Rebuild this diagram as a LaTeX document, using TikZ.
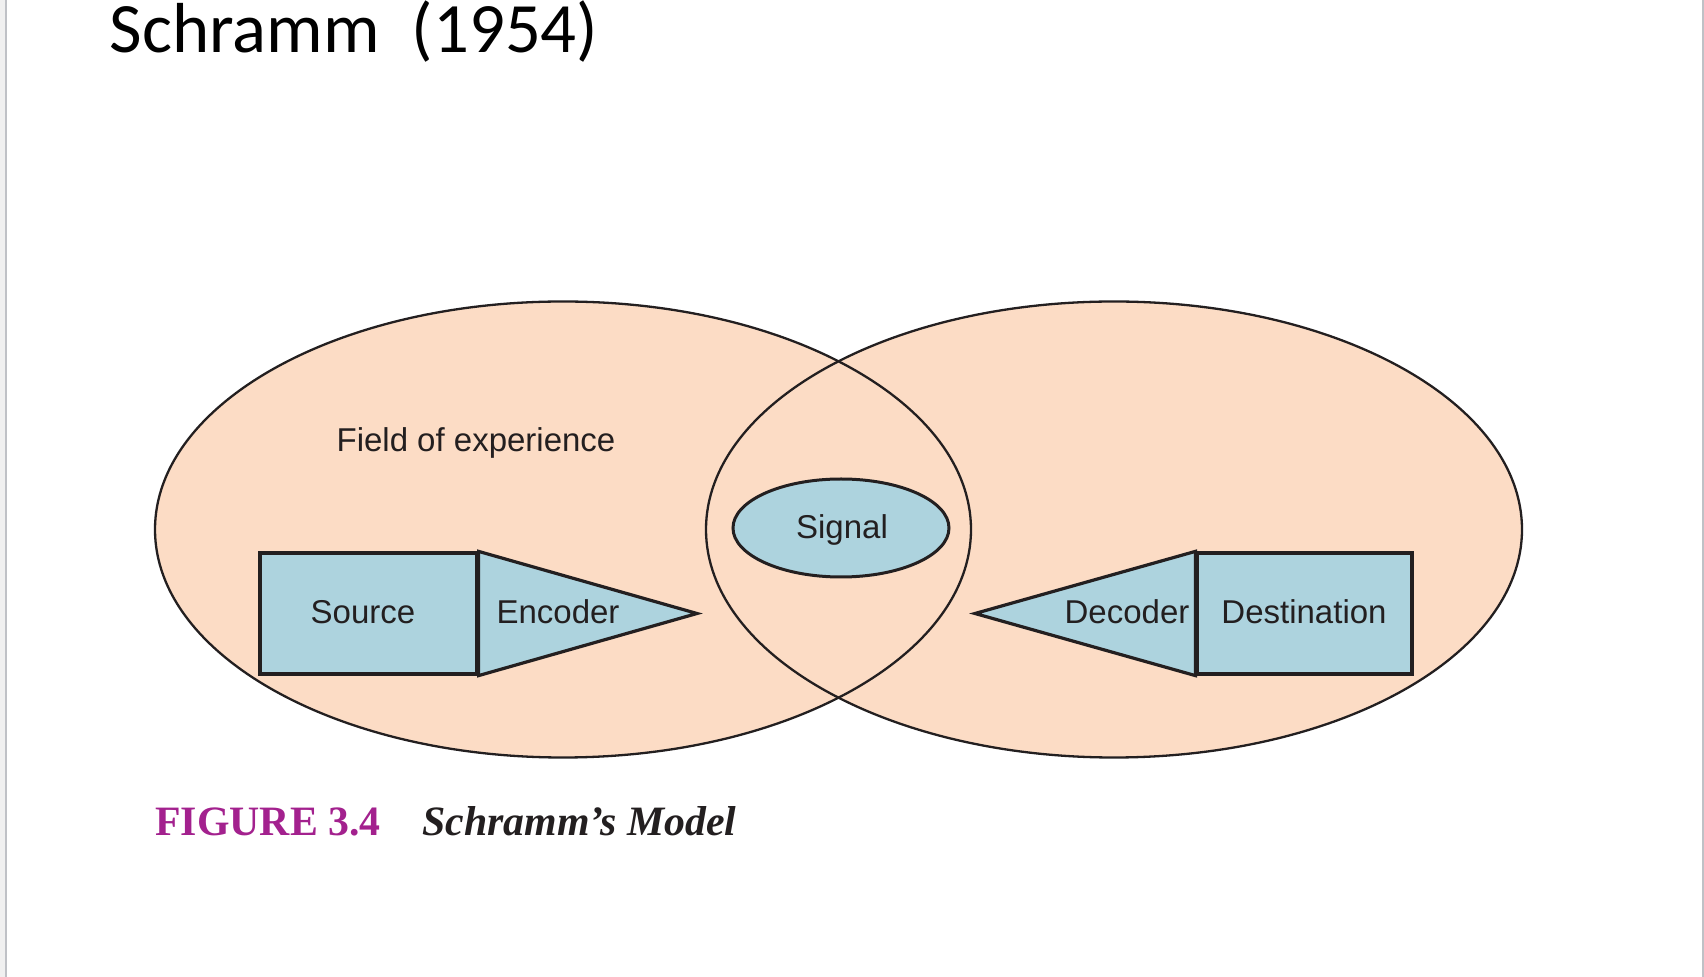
\documentclass[tikz,border=0pt]{standalone}
\usepackage{fontspec}
\setmainfont{Liberation Sans}
\newfontfamily\titlefont{Carlito}
\newfontfamily\capfont{Liberation Serif}
\usetikzlibrary{shapes.geometric}
\definecolor{peach}{HTML}{FCDCC5}
\definecolor{lblue}{HTML}{ADD3DE}
\definecolor{ink}{HTML}{231F20}
\definecolor{figmag}{HTML}{A3218E}
\definecolor{edgegray}{HTML}{BFC1C6}
\tikzset{
  field/.style={draw=ink, line width=1.15pt},
  blockbox/.style={draw=ink, fill=lblue, line width=1.6pt, rectangle, inner sep=0pt},
  lbl/.style={font=\fontsize{16.5pt}{19pt}\selectfont, text=ink, inner sep=0pt, anchor=base}
}
\begin{document}
\begin{tikzpicture}[x=0.5pt,y=-0.5pt]
\useasboundingbox (0,0) rectangle (1704,977);
\fill[white] (0,0) rectangle (1704,977);
\fill[black!6] (0,0) rectangle (5,977);
\fill[edgegray] (5,0) rectangle (7,977);
\fill[edgegray] (1702,0) rectangle (1704,977);
% title
\node[font=\titlefont\fontsize{35.4pt}{40pt}\selectfont, inner sep=0pt, anchor=base west] (title) at (109.5,53) {Schramm\ \ (1954)};
% fields of experience
\fill[peach] (563,529.5) ellipse [x radius=204pt, y radius=114pt];
\fill[peach] (1114,529.5) ellipse [x radius=204pt, y radius=114pt];
\draw[field] (563,529.5) ellipse [x radius=204pt, y radius=114pt];
\draw[field] (1114,529.5) ellipse [x radius=204pt, y radius=114pt];
\node[lbl] (foe) at (476,452) {Field of experience};
% signal
\node[draw=ink, fill=lblue, line width=1.5pt, ellipse, minimum width=108pt, minimum height=49pt, inner sep=0pt] (sig) at (841,528) {};
\node[lbl] (sigt) at (842,539) {Signal};
% source + encoder
\node[blockbox, minimum width=108.5pt, minimum height=60.5pt] (src) at (368.5,613.5) {};
\coordinate (enctip) at (697,613.5);
\draw[draw=ink, fill=lblue, line width=1.6pt, line join=miter] (src.north east) -- (enctip) -- (src.south east) -- cycle;
\node[lbl] (srct) at (363,623.5) {Source};
\node[lbl] (enct) at (558,623.5) {Encoder};
% destination + decoder
\node[blockbox, minimum width=107.5pt, minimum height=60.5pt] (dst) at (1304.5,613.5) {};
\coordinate (dectip) at (975,613.5);
\draw[draw=ink, fill=lblue, line width=1.6pt, line join=miter] (dst.north west) -- (dectip) -- (dst.south west) -- cycle;
\node[lbl] (dect) at (1127,623.5) {Decoder};
\node[lbl] (dstt) at (1304,623.5) {Destination};
% caption
\node[font=\capfont\bfseries\fontsize{20.9pt}{24pt}\selectfont, text=figmag, inner sep=0pt, anchor=base west] (fig) at (155,836) {FIGURE 3.4};
\node[font=\capfont\bfseries\itshape\fontsize{20.9pt}{24pt}\selectfont, text=ink, inner sep=0pt, anchor=base west] (capt) at (422,836) {Schramm’s Model};
\end{tikzpicture}
\end{document}
